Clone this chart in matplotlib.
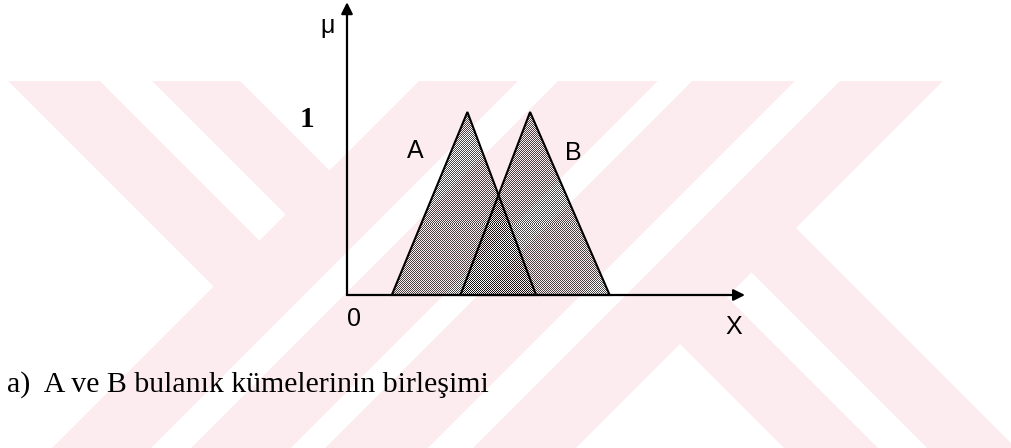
import numpy as np
import matplotlib
matplotlib.use("Agg")
import matplotlib.pyplot as plt
from matplotlib.patches import Polygon

# Fuzzy sets (triangular membership functions): left foot, peak, right foot
set_names = ["A", "B"]
set_a = [2.25, 6.05, 9.5]
set_b = [5.7, 9.2, 13.2]
peak_mu = 1.0
x_axis_end = 20.0
mu_axis_end = 1.6
caption = "a)  A ve B bulanık kümelerinin birleşimi"

W, H, DPI = 1011, 448, 100
fig = plt.figure(figsize=(W / DPI, H / DPI), dpi=DPI)
fig.patch.set_facecolor("white")

# ---- background emblem: diagonal stripes in pale pink (pixel coordinates)
bg = fig.add_axes([0, 0, 1, 1], zorder=0)
bg.set_xlim(0, W)
bg.set_ylim(H, 0)
bg.axis("off")
pink = "#fdecef"
y_top, y_bot = 81, H + 5
rising = [(500, 599), (639, 739), (773, 876), (921, 1024)]      # x + y bands
falling_left = [(-73, 19), (71, 159)]                             # x - y bands
falling_right = [(336, 430), (479, 568)]
for a, b in rising:
    bg.add_patch(Polygon([(a - y_top, y_top), (b - y_top, y_top),
                          (b - y_bot, y_bot), (a - y_bot, y_bot)],
                         closed=True, fc=pink, ec="none"))
c_end = 550
for a, b in falling_left:
    bg.add_patch(Polygon([(a + y_top, y_top), (b + y_top, y_top),
                          ((b + c_end) / 2, (c_end - b) / 2),
                          ((a + c_end) / 2, (c_end - a) / 2)],
                         closed=True, fc=pink, ec="none"))
c_start = 975
for a, b in falling_right:
    bg.add_patch(Polygon([((a + c_start) / 2, (c_start - a) / 2),
                          ((b + c_start) / 2, (c_start - b) / 2),
                          (b + y_bot, y_bot), (a + y_bot, y_bot)],
                         closed=True, fc=pink, ec="none"))

# ---- main membership plot
ax = fig.add_axes([0, 0, 1, 1], zorder=1)
ax.patch.set_alpha(0)
px_per_x = 19.9
px_per_mu = 183.0
ox, oy = 347.0, 295.0
xlim = (-ox / px_per_x, (W - ox) / px_per_x)
ylim = ((oy - H) / px_per_mu, oy / px_per_mu)
ax.set_xlim(*xlim)
ax.set_ylim(*ylim)
ax.axis("off")

# stipple texture (regular dot lattice), clipped to each triangle
ii, jj = np.mgrid[0:H, 0:W]
dots = (ii + jj) % 2 == 0
tex = np.zeros((H, W, 4))
tex[..., 3] = np.where(dots, 0.72, 0.0)

for pts in (set_a, set_b):
    verts = [(pts[0], 0), (pts[1], peak_mu), (pts[2], 0)]
    tri = Polygon(verts, closed=True, fc="none", ec="black", lw=1.5, zorder=3)
    ax.add_patch(tri)
    im = ax.imshow(tex, extent=(xlim[0], xlim[1], ylim[0], ylim[1]),
                   origin="upper", interpolation="nearest", aspect="auto", zorder=2)
    im.set_clip_path(tri)
ax.set_xlim(*xlim)
ax.set_ylim(*ylim)

# axes with arrow heads
arrow = dict(arrowstyle="-|>", mutation_scale=17, lw=1.6, color="black",
             shrinkA=0, shrinkB=0)
ax.annotate("", xy=(0, mu_axis_end), xytext=(0, 0), arrowprops=arrow, zorder=4)
ax.annotate("", xy=(x_axis_end, 0), xytext=(0, 0), arrowprops=arrow, zorder=4)

sans = ["Liberation Sans Narrow", "Liberation Sans"]
ax.text(-1.0, 1.47, "μ", fontsize=18, family=sans, ha="center", va="center")
ax.text(-2.0, 0.96, "1", fontsize=21, family="Liberation Serif", weight="bold",
        ha="center", va="center")
ax.text(0.35, -0.13, "0", fontsize=18, family=sans, ha="center", va="center")
ax.text(19.45, -0.175, "X", fontsize=18, family=sans, ha="center", va="center")
ax.text(3.42, 0.787, set_names[0], fontsize=18, family=sans, ha="center", va="center")
ax.text(11.36, 0.776, set_names[1], fontsize=18, family=sans, ha="center", va="center")

fig.text(7 / W, 1 - 392 / H, caption, fontsize=21.5, family="Liberation Serif",
         ha="left", va="baseline")

fig.savefig("out.png", dpi=DPI)
